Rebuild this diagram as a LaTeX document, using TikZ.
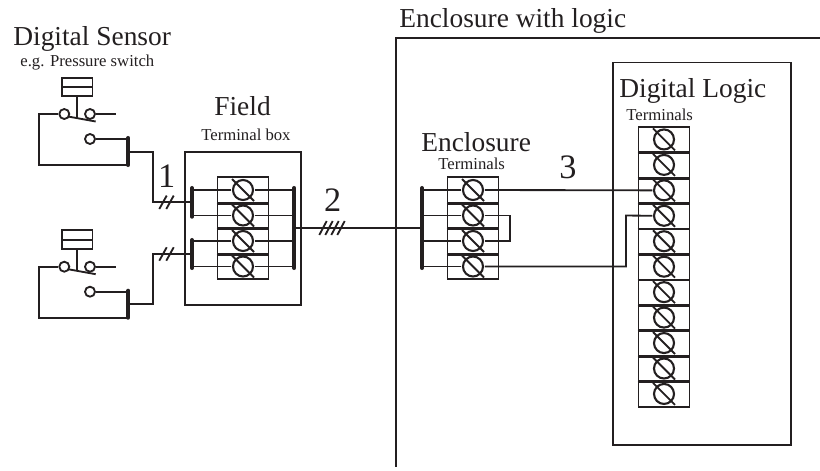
\documentclass[tikz,border=0pt]{standalone}
\usepackage{fontspec}
\setmainfont{Liberation Serif}
\definecolor{ink}{HTML}{231F20}
\tikzset{
  wire/.style={line width=1.05pt, color=ink},
  box/.style={draw=ink, line width=1.1pt},
  bus/.style={line width=2.3pt, color=ink, line cap=round},
  cell/.style={draw=ink, line width=1pt, minimum width=1.02cm, minimum height=0.51cm, inner sep=0pt},
  screw/.style={circle, draw=ink, line width=1.2pt, minimum size=0.4cm, inner sep=0pt, outer sep=1pt},
  contact/.style={circle, draw=ink, line width=1.05pt, minimum size=0.2cm, inner sep=0pt},
  capbox/.style={draw=ink, line width=1.05pt, minimum width=0.61cm, minimum height=0.37cm, inner sep=0pt},
  title/.style={anchor=base west, inner sep=0pt, color=ink, font=\fontsize{15.6}{18}\selectfont},
  small/.style={anchor=base west, inner sep=0pt, color=ink, font=\fontsize{9.5}{11}\selectfont},
  digit/.style={anchor=base, inner sep=0pt, color=ink, font=\fontsize{19.5}{22}\selectfont},
}
\begin{document}
\begin{tikzpicture}[x=0.02cm, y=-0.02cm]

      \useasboundingbox (0,0) rectangle (820,470);

      % Definitions
      \def\dx{11}      % Half-extent of screw slash
      \def\xF{243}     % Centre of field terminals
      \def\xE{473}     % Centre of enclosure terminals
      \def\xL{664}     % Centre of logic terminals

      % Labels
      \node [title] (sensorT) at (13,45) {Digital Sensor};
      \node [small] (sensorS) at (20,66.7) {e.g. Pressure switch};
      \node [title] (fieldT) at (214,115) {Field};
      \node [small] (fieldS) at (201,140) {Terminal box};
      \node [title] (enclT) at (421,151.7) {Enclosure};
      \node [small] (enclS) at (438,169) {Terminals};
      \node [title] (logicT) at (619,97) {Digital Logic};
      \node [small] (logicS) at (626,120) {Terminals};
      \node [title] (outerT) at (399,27) {Enclosure with logic};
      \node [digit] (n1) at (166.7,187) {1};
      \node [digit] (n2) at (332.7,211.7) {2};
      \node [digit] (n3) at (568,178) {3};

      % Boxes
      \draw [box] (820,38) -| (396,467);
      \node [box, minimum width=2.313cm, minimum height=3.066cm, inner sep=0pt] (fieldBox) at (242.9,228.4) {};
      \node [box, minimum width=3.57cm, minimum height=7.65cm, inner sep=0pt] (logicBox) at (702.2,253.7) {};

      % Field terminals
      \foreach \i/\y in {1/190,2/215.5,3/241,4/266.5} {
        \node [cell] (F\i) at (\xF,\y) {};
        \node [screw] (FS\i) at (\xF,\y) {};
        \draw [wire] (FS\i.center) ++ (-\dx,-\dx) -- ++ (2*\dx,2*\dx);
      }
      % Enclosure terminals
      \foreach \i/\y in {1/190,2/215.5,3/241,4/266.5} {
        \node [cell] (E\i) at (\xE,\y) {};
        \node [screw] (ES\i) at (\xE,\y) {};
        \draw [wire] (ES\i.center) ++ (-\dx,-\dx) -- ++ (2*\dx,2*\dx);
      }
      % Logic terminals
      \foreach \i in {1,...,11} {
        \node [cell] (L\i) at (\xL,114+25.45*\i) {};
        \node [screw] (LS\i) at (\xL,114+25.45*\i) {};
        \draw [wire] (LS\i.center) ++ (-\dx,-\dx) -- ++ (2*\dx,2*\dx);
      }
      % Thick lines between rows
      \foreach \a in {F1,F2,F3,E1,E2,E3} {
        \draw [wire, line width=1.2pt] (\a.south west) -- (\a.south east);
      }
      \foreach \i in {1,...,10} {
        \draw [wire, line width=1.2pt] (L\i.south west) -- (L\i.south east);
      }

      % Sensors
      \foreach \s/\dy in {A/0,B/152.7} {
        \begin{scope}[shift={(0,\dy)}]
          \node [capbox] (cap\s) at (77.3,86.9) {};
          \node [contact] (cL\s) at (64.3,114) {};
          \node [contact] (cR\s) at (90,114) {};
          \node [contact] (cN\s) at (90,139) {};
          \coordinate (corner\s) at (38.7,114);
          \coordinate (stub\s) at (116,114);
          \coordinate (piv\s) at (77.3,118.3);
          \coordinate (levL\s) at (68,116.5);
          \coordinate (levR\s) at (95.7,121.5);
          \coordinate (barT\s) at (128.3,138);
          \coordinate (barD\s) at (128.3,165);
          \coordinate (barM\s) at (128.3,151.7);
          \draw [wire] (cap\s.west) -- (cap\s.east);
          \draw [wire] (cap\s.south) -- (piv\s);
          \draw [wire] (levL\s) -- (levR\s);
          \draw [wire] (cL\s) -- (corner\s) |- (barD\s);
          \draw [wire] (cR\s) -- (stub\s);
          \draw [wire] (cN\s) -- (cN\s -| barT\s);
          \draw [bus] (barT\s) -- (barD\s);
        \end{scope}
      }

      % Field bars
      \coordinate (fbarA) at (192,202.3);
      \coordinate (fbarB) at (192,254);
      \coordinate (fbarR) at (294.3,227.7);
      \coordinate (ebar) at (422,227.7);
      \draw [bus] (192,188) -- (192,216.7);
      \draw [bus] (192,240) -- (192,268);
      \draw [bus] (294.3,188) -- (294.3,268);
      \draw [bus] (422,188) -- (422,268);
      \foreach \i in {1,...,4} {
        \draw [wire] (FS\i.west) -- (FS\i.west -| fbarA);
        \draw [wire] (FS\i.east) -- (FS\i.east -| fbarR);
        \draw [wire] (ES\i.west) -- (ES\i.west -| ebar);
      }

      % Cables
      \draw [wire] (barMA) -- ++ (25,0) |- (fbarA);
      \draw [wire] (barMB) -- ++ (25,0) |- (fbarB);
      \draw [wire] (fbarR) -- (ebar);
      \draw [wire] (ES2.east) -- ++ (25,0) |- (ES3.east);
      \draw [wire] (ES1.east) -- (LS3.west);
      \draw [wire] (ES4.east) -| (626,215.5) -- (LS4.west);

      % Cable ticks
      \foreach \x in {159.3,166.3} {
        \draw [wire] (\x,209) -- ++ (7.4,-13.4);
        \draw [wire] (\x,260.7) -- ++ (7.4,-13.4);
      }
      \foreach \x in {319.3,325.3,331.3,337.3} {
        \draw [wire] (\x,235) -- ++ (7.4,-14);
      }

   \end{tikzpicture}
\end{document}
